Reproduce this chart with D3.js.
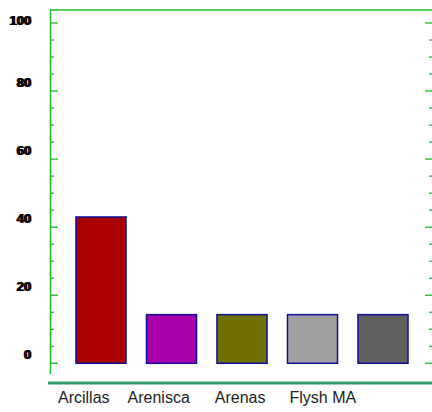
<!DOCTYPE html>
<html><head><meta charset="utf-8">
<script src="https://cdn.jsdelivr.net/npm/d3@7"></script>
<style>body{margin:0;background:#fff}svg{display:block}</style>
</head><body>
<script>
const categories = ["Arcillas","Arenisca","Arenas","Flysh MA","Cuaternario"];
const values = [43, 14.3, 14.3, 14.3, 14.3];
const colors = ["#aa0000","#aa00aa","#707000","#a0a0a0","#606060"];
const legendLabels = ["Arcillas","Arenisca","Arenas","Flysh MA"];
const tickValues = [0,20,40,60,80,100];

const W=432,H=412;
const svg=d3.select("body").append("svg").attr("width",W).attr("height",H)
  .style("font-family","Arial, 'Liberation Sans', sans-serif");

const y=d3.scaleLinear().domain([0,100]).range([363.3,23]);
const x=d3.scaleBand().domain(categories).range([52,432]).paddingInner(0.29).paddingOuter(0.34);

// frame lines
svg.append("line").attr("x1",50).attr("x2",W).attr("y1",10).attr("y2",10).attr("stroke","#22bb22").attr("stroke-width",1.5);
svg.append("line").attr("x1",50.5).attr("x2",50.5).attr("y1",10).attr("y2",374).attr("stroke","#22bb22").attr("stroke-width",1.5);

// left ticks
const minor=d3.range(0,101,5);
svg.append("g").selectAll("line").data(minor).join("line")
  .attr("x1",50).attr("x2",d=>d%20===0?58:54)
  .attr("y1",d=>y(d)).attr("y2",d=>y(d))
  .attr("stroke","#22bb22").attr("stroke-width",1.3);
// right ticks
svg.append("g").selectAll("line").data(minor).join("line")
  .attr("x1",d=>d%20===0?425:429).attr("x2",W)
  .attr("y1",d=>y(d)).attr("y2",d=>y(d))
  .attr("stroke","#22bb22").attr("stroke-width",1.3);

// y labels (doubled, bold)
[0,1.5].forEach(o=>{
svg.append("g").selectAll("text").data(tickValues).join("text")
  .attr("x",30.5+o).attr("y",d=>Math.max(y(d)-4,25))
  .attr("text-anchor","end").attr("font-size",13).attr("font-weight","bold")
  .attr("fill","#000").text(d=>d);
});

// faint clipped category labels
svg.append("clipPath").attr("id","cl").append("rect").attr("x",52).attr("y",366).attr("width",380).attr("height",9);
svg.append("g").attr("clip-path","url(#cl)").selectAll("text").data(categories).join("text")
  .attr("x",d=>x(d)+x.bandwidth()/2).attr("y",383.5).attr("text-anchor","middle")
  .attr("font-size",13).attr("fill","#aaa").text(d=>d);

// bars
svg.append("g").selectAll("rect").data(categories).join("rect")
  .attr("x",d=>x(d)).attr("width",x.bandwidth())
  .attr("y",(d,i)=>y(values[i])).attr("height",(d,i)=>y(0)-y(values[i]))
  .attr("fill",(d,i)=>colors[i]).attr("stroke","#1010a0").attr("stroke-width",1.5);

// bottom line
svg.append("line").attr("x1",48).attr("x2",W).attr("y1",383).attr("y2",383).attr("stroke","#3a9a6e").attr("stroke-width",3);

// legend-like labels flow
const gaps=[18,25,24];
let cx=58;
const lg=svg.append("g");
legendLabels.forEach((l,i)=>{
  const t=lg.append("text").attr("x",cx).attr("y",403).attr("font-size",16).attr("fill","#222").text(l);
  cx+=t.node().getComputedTextLength()+(gaps[i]||20);
});
</script>
</body></html>
